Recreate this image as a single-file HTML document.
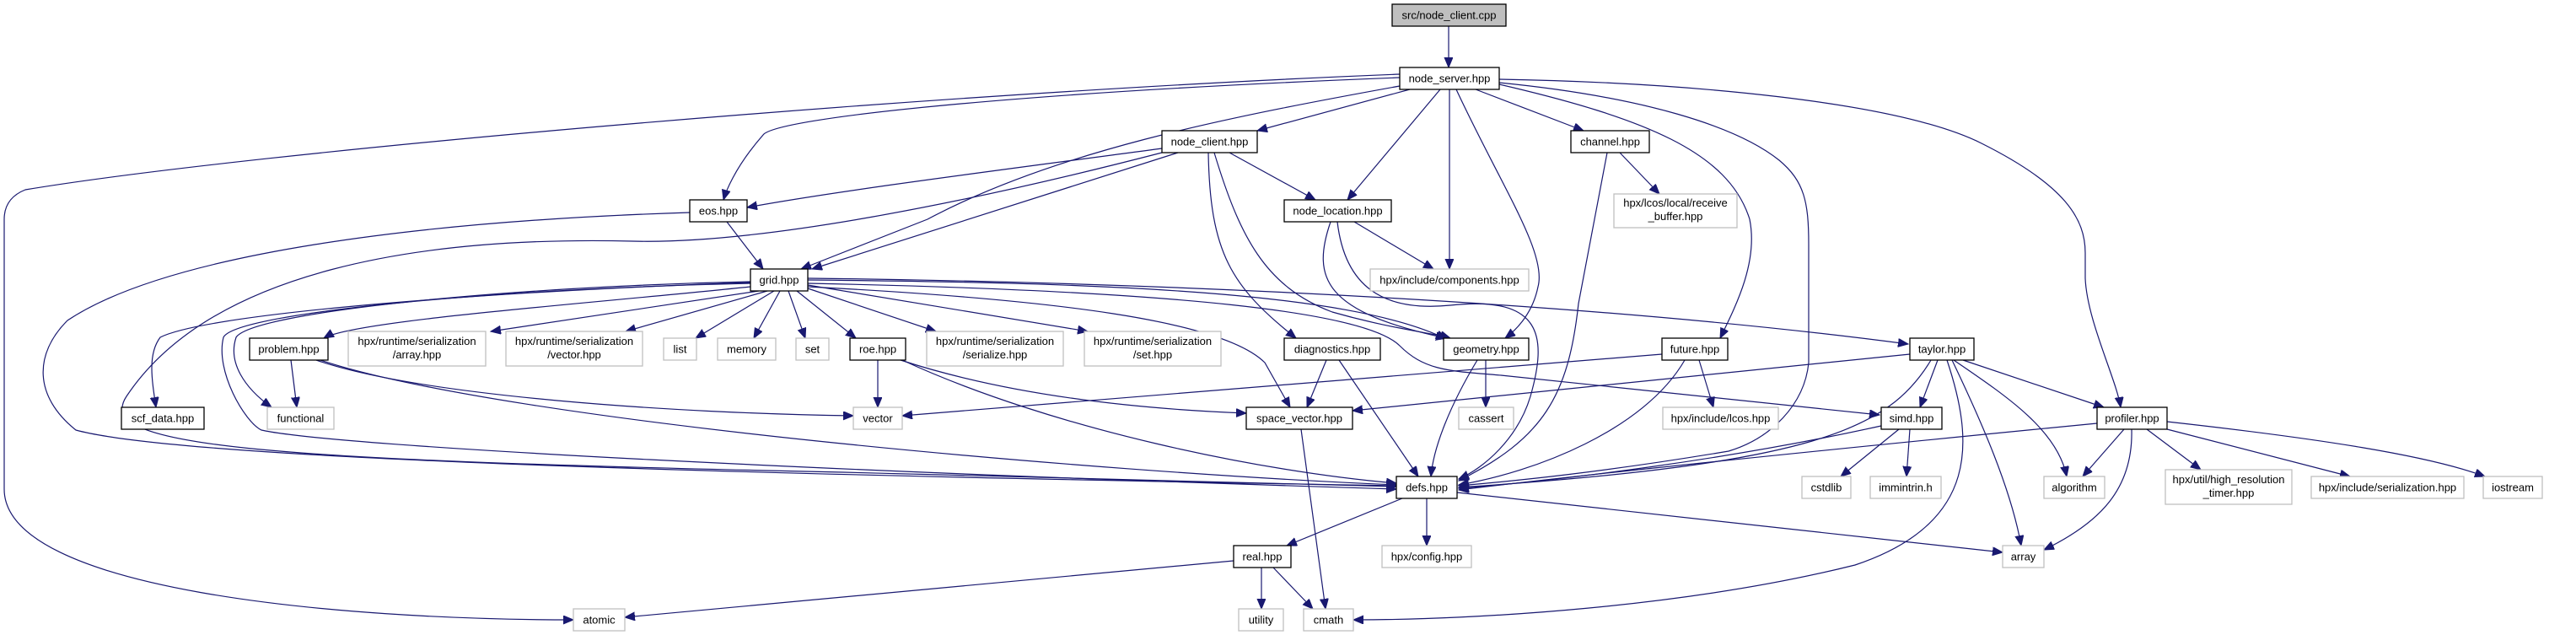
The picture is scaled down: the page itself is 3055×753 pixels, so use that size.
<!DOCTYPE html>
<html><head><meta charset="utf-8"><style>
html,body{margin:0;padding:0;background:#fff;width:3055px;height:753px;overflow:hidden}
svg{display:block}
text{font-family:"Liberation Sans",Helvetica,Arial,sans-serif;font-size:13px;fill:#000}
.e{fill:none;stroke:#191970;stroke-width:1.2}
.l{fill:#fff;stroke:#000;stroke-width:1.3}
.s{fill:#fff;stroke:#bfbfbf;stroke-width:1.3}
</style></head><body>
<svg width="3055" height="753" viewBox="0 0 3055 753" xmlns="http://www.w3.org/2000/svg">
<defs><marker id="a" markerUnits="userSpaceOnUse" markerWidth="14" markerHeight="12" refX="12" refY="5" orient="auto"><path d="M0,0 L12,5 L0,10 z" fill="#191970" stroke="#191970"/></marker></defs>
<g class="e" marker-end="url(#a)">
<path d="M1718,31 L1718,80"/>
<path d="M1672,106 L1491,155"/>
<path d="M1708,106 L1598,237"/>
<path d="M1719,106 L1719,319"/>
<path d="M1750,106 L1878,155"/>
<path d="M1727,106 C1780,220 1835,300 1824,340 C1818,370 1800,390 1785,401"/>
<path d="M1778,98 C1950,115 2060,150 2110,190 C2140,215 2145,240 2145,290 L2145,430 C2140,480 2100,520 2050,535 C1900,560 1800,570 1730,576"/>
<path d="M1778,100 C1950,140 2050,180 2075,260 C2085,310 2060,360 2040,401"/>
<path d="M1778,94 C2000,98 2250,120 2350,170 C2450,220 2473,260 2473,300 L2473,330 C2475,380 2510,450 2515,483"/>
<path d="M1660,102 C1450,140 1250,180 1100,260 L950,319"/>
<path d="M1660,92 C1200,110 920,140 905,160 C870,200 860,230 858,237"/>
<path d="M1660,88 C1100,110 300,180 30,225 Q5,235 5,260 L5,580 C5,700 400,735 680,735"/>
<path d="M1378,176 C1200,200 1000,225 886,246"/>
<path d="M1397,181 L963,319"/>
<path d="M1458,181 L1560,237"/>
<path d="M1433,181 C1435,300 1460,340 1537,401"/>
<path d="M1440,181 C1470,280 1500,340 1580,370 C1650,390 1700,395 1720,401"/>
<path d="M1378,181 C1150,240 900,290 750,286 C500,280 250,320 150,470 C110,530 300,545 1000,560 L1656,577"/>
<path d="M1921,181 L1968,230"/>
<path d="M1906,181 L1872,360 C1860,470 1830,520 1730,570"/>
<path d="M1606,263 L1700,319"/>
<path d="M1578,263 C1555,330 1570,370 1715,401"/>
<path d="M1586,263 C1595,340 1640,370 1720,362 C1830,350 1835,400 1815,470 C1800,520 1760,555 1730,568"/>
<path d="M862,263 L905,319"/>
<path d="M818,252 C500,262 200,300 80,380 C40,420 40,470 90,510 C200,540 700,560 1656,576"/>
<path d="M890,340 C700,360 420,380 384,401"/>
<path d="M900,345 L582,393"/>
<path d="M910,345 L742,393"/>
<path d="M918,345 L825,401"/>
<path d="M925,345 L894,401"/>
<path d="M935,345 L955,401"/>
<path d="M945,345 L1015,401"/>
<path d="M958,342 L1110,393"/>
<path d="M958,338 L1290,393"/>
<path d="M958,332 C1300,335 1600,345 1715,402"/>
<path d="M958,330 C1400,335 1900,360 2263,408"/>
<path d="M958,336 C1400,345 1620,370 1660,410 C1690,440 1720,440 1780,445 L2229,492"/>
<path d="M958,340 C1250,355 1450,380 1500,430 L1530,483"/>
<path d="M890,335 C600,345 250,370 190,400 C175,420 180,450 185,483"/>
<path d="M890,334 C600,340 300,370 280,400 C270,430 290,460 322,483"/>
<path d="M890,336 C600,342 280,370 265,400 C255,440 290,500 310,510 C400,530 1000,560 1656,580"/>
<path d="M345,427 L352,483"/>
<path d="M375,427 C500,470 800,490 1012,493"/>
<path d="M380,427 C600,500 1300,560 1656,575"/>
<path d="M1041,427 L1041,483"/>
<path d="M1068,427 C1200,470 1350,485 1478,490"/>
<path d="M1070,427 C1250,510 1500,560 1656,573"/>
<path d="M1573,427 L1550,483"/>
<path d="M1588,427 L1682,565"/>
<path d="M1762,427 L1762,483"/>
<path d="M1752,427 C1720,480 1700,530 1697,565"/>
<path d="M1971,420 L1070,493"/>
<path d="M2015,427 L2032,483"/>
<path d="M1998,427 C1950,510 1820,560 1730,575"/>
<path d="M2265,420 L1604,487"/>
<path d="M2298,427 L2277,483"/>
<path d="M2328,427 L2495,483"/>
<path d="M2317,427 C2380,470 2440,510 2451,565"/>
<path d="M2315,427 C2350,500 2385,580 2397,647"/>
<path d="M2290,427 C2240,510 2150,550 1730,578"/>
<path d="M2309,427 C2340,520 2350,620 2200,670 C2000,720 1750,735 1605,735"/>
<path d="M2252,509 L2183,565"/>
<path d="M2265,509 L2261,565"/>
<path d="M2231,505 C2050,545 1850,570 1730,579"/>
<path d="M2487,502 C2200,530 1900,560 1730,581"/>
<path d="M2519,509 L2470,565"/>
<path d="M2528,509 C2530,580 2490,620 2424,652"/>
<path d="M2546,509 L2610,557"/>
<path d="M2570,509 L2787,565"/>
<path d="M2570,500 C2750,520 2880,540 2947,565"/>
<path d="M1663,591 L1526,647"/>
<path d="M1692,591 L1692,647"/>
<path d="M1728,584 L2375,655"/>
<path d="M1463,665 L741,732"/>
<path d="M1496,673 L1496,722"/>
<path d="M1510,673 L1557,722"/>
<path d="M1543,509 L1572,722"/>
</g>
<rect x="1651" y="5" width="135" height="26" fill="#bfbfbf" stroke="#000" stroke-width="1.3"/>
<text x="1718.5" y="22.5" text-anchor="middle">src/node_client.cpp</text>
<g text-anchor="middle">
<rect class="l" x="1660" y="80" width="118" height="26"/><text x="1719" y="97.5">node_server.hpp</text>
<rect class="l" x="1378" y="155" width="113" height="26"/><text x="1434.5" y="172.5">node_client.hpp</text>
<rect class="l" x="1863" y="155" width="93" height="26"/><text x="1909.5" y="172.5">channel.hpp</text>
<rect class="l" x="1523" y="237" width="127" height="26"/><text x="1586.5" y="254.5">node_location.hpp</text>
<rect class="s" x="1625" y="319" width="188" height="26"/><text x="1719" y="336.5">hpx/include/components.hpp</text>
<rect class="s" x="1914" y="230" width="146" height="40"/><text x="1987" y="245">hpx/lcos/local/receive</text><text x="1987" y="261">_buffer.hpp</text>
<rect class="l" x="818" y="237" width="68" height="26"/><text x="852" y="254.5">eos.hpp</text>
<rect class="l" x="890" y="319" width="68" height="26"/><text x="924" y="336.5">grid.hpp</text>
<rect class="l" x="296" y="401" width="93" height="26"/><text x="342.5" y="418.5">problem.hpp</text>
<rect class="s" x="413" y="393" width="163" height="41"/><text x="494.5" y="409">hpx/runtime/serialization</text><text x="494.5" y="425">/array.hpp</text>
<rect class="s" x="600" y="393" width="162" height="41"/><text x="681" y="409">hpx/runtime/serialization</text><text x="681" y="425">/vector.hpp</text>
<rect class="s" x="787" y="401" width="39" height="26"/><text x="806.5" y="418.5">list</text>
<rect class="s" x="851" y="401" width="69" height="26"/><text x="885.5" y="418.5">memory</text>
<rect class="s" x="944" y="401" width="39" height="26"/><text x="963.5" y="418.5">set</text>
<rect class="l" x="1008" y="401" width="66" height="26"/><text x="1041" y="418.5">roe.hpp</text>
<rect class="s" x="1099" y="393" width="162" height="41"/><text x="1180" y="409">hpx/runtime/serialization</text><text x="1180" y="425">/serialize.hpp</text>
<rect class="s" x="1286" y="393" width="162" height="41"/><text x="1367" y="409">hpx/runtime/serialization</text><text x="1367" y="425">/set.hpp</text>
<rect class="l" x="1523" y="401" width="114" height="26"/><text x="1580" y="418.5">diagnostics.hpp</text>
<rect class="l" x="1712" y="401" width="101" height="26"/><text x="1762.5" y="418.5">geometry.hpp</text>
<rect class="l" x="1971" y="401" width="78" height="26"/><text x="2010" y="418.5">future.hpp</text>
<rect class="l" x="2265" y="401" width="76" height="26"/><text x="2303" y="418.5">taylor.hpp</text>
<rect class="l" x="144" y="483" width="98" height="26"/><text x="193" y="500.5">scf_data.hpp</text>
<rect class="s" x="317" y="483" width="79" height="26"/><text x="356.5" y="500.5">functional</text>
<rect class="s" x="1012" y="483" width="58" height="26"/><text x="1041" y="500.5">vector</text>
<rect class="l" x="1478" y="483" width="126" height="26"/><text x="1541" y="500.5">space_vector.hpp</text>
<rect class="s" x="1730" y="483" width="65" height="26"/><text x="1762.5" y="500.5">cassert</text>
<rect class="s" x="1972" y="483" width="137" height="26"/><text x="2040.5" y="500.5">hpx/include/lcos.hpp</text>
<rect class="l" x="2231" y="483" width="72" height="26"/><text x="2267" y="500.5">simd.hpp</text>
<rect class="l" x="2487" y="483" width="83" height="26"/><text x="2528.5" y="500.5">profiler.hpp</text>
<rect class="l" x="1656" y="565" width="72" height="26"/><text x="1692" y="582.5">defs.hpp</text>
<rect class="s" x="2137" y="565" width="58" height="26"/><text x="2166" y="582.5">cstdlib</text>
<rect class="s" x="2218" y="565" width="84" height="26"/><text x="2260" y="582.5">immintrin.h</text>
<rect class="s" x="2424" y="565" width="72" height="26"/><text x="2460" y="582.5">algorithm</text>
<rect class="s" x="2568" y="557" width="150" height="41"/><text x="2643" y="573">hpx/util/high_resolution</text><text x="2643" y="589">_timer.hpp</text>
<rect class="s" x="2741" y="565" width="181" height="26"/><text x="2831.5" y="582.5">hpx/include/serialization.hpp</text>
<rect class="s" x="2945" y="565" width="70" height="26"/><text x="2980" y="582.5">iostream</text>
<rect class="l" x="1463" y="647" width="68" height="26"/><text x="1497" y="664.5">real.hpp</text>
<rect class="s" x="1639" y="647" width="106" height="26"/><text x="1692" y="664.5">hpx/config.hpp</text>
<rect class="s" x="2375" y="647" width="49" height="26"/><text x="2399.5" y="664.5">array</text>
<rect class="s" x="680" y="722" width="61" height="26"/><text x="710.5" y="739.5">atomic</text>
<rect class="s" x="1469" y="722" width="53" height="26"/><text x="1495.5" y="739.5">utility</text>
<rect class="s" x="1546" y="722" width="59" height="26"/><text x="1575.5" y="739.5">cmath</text>
</g>
</svg>
</body></html>
